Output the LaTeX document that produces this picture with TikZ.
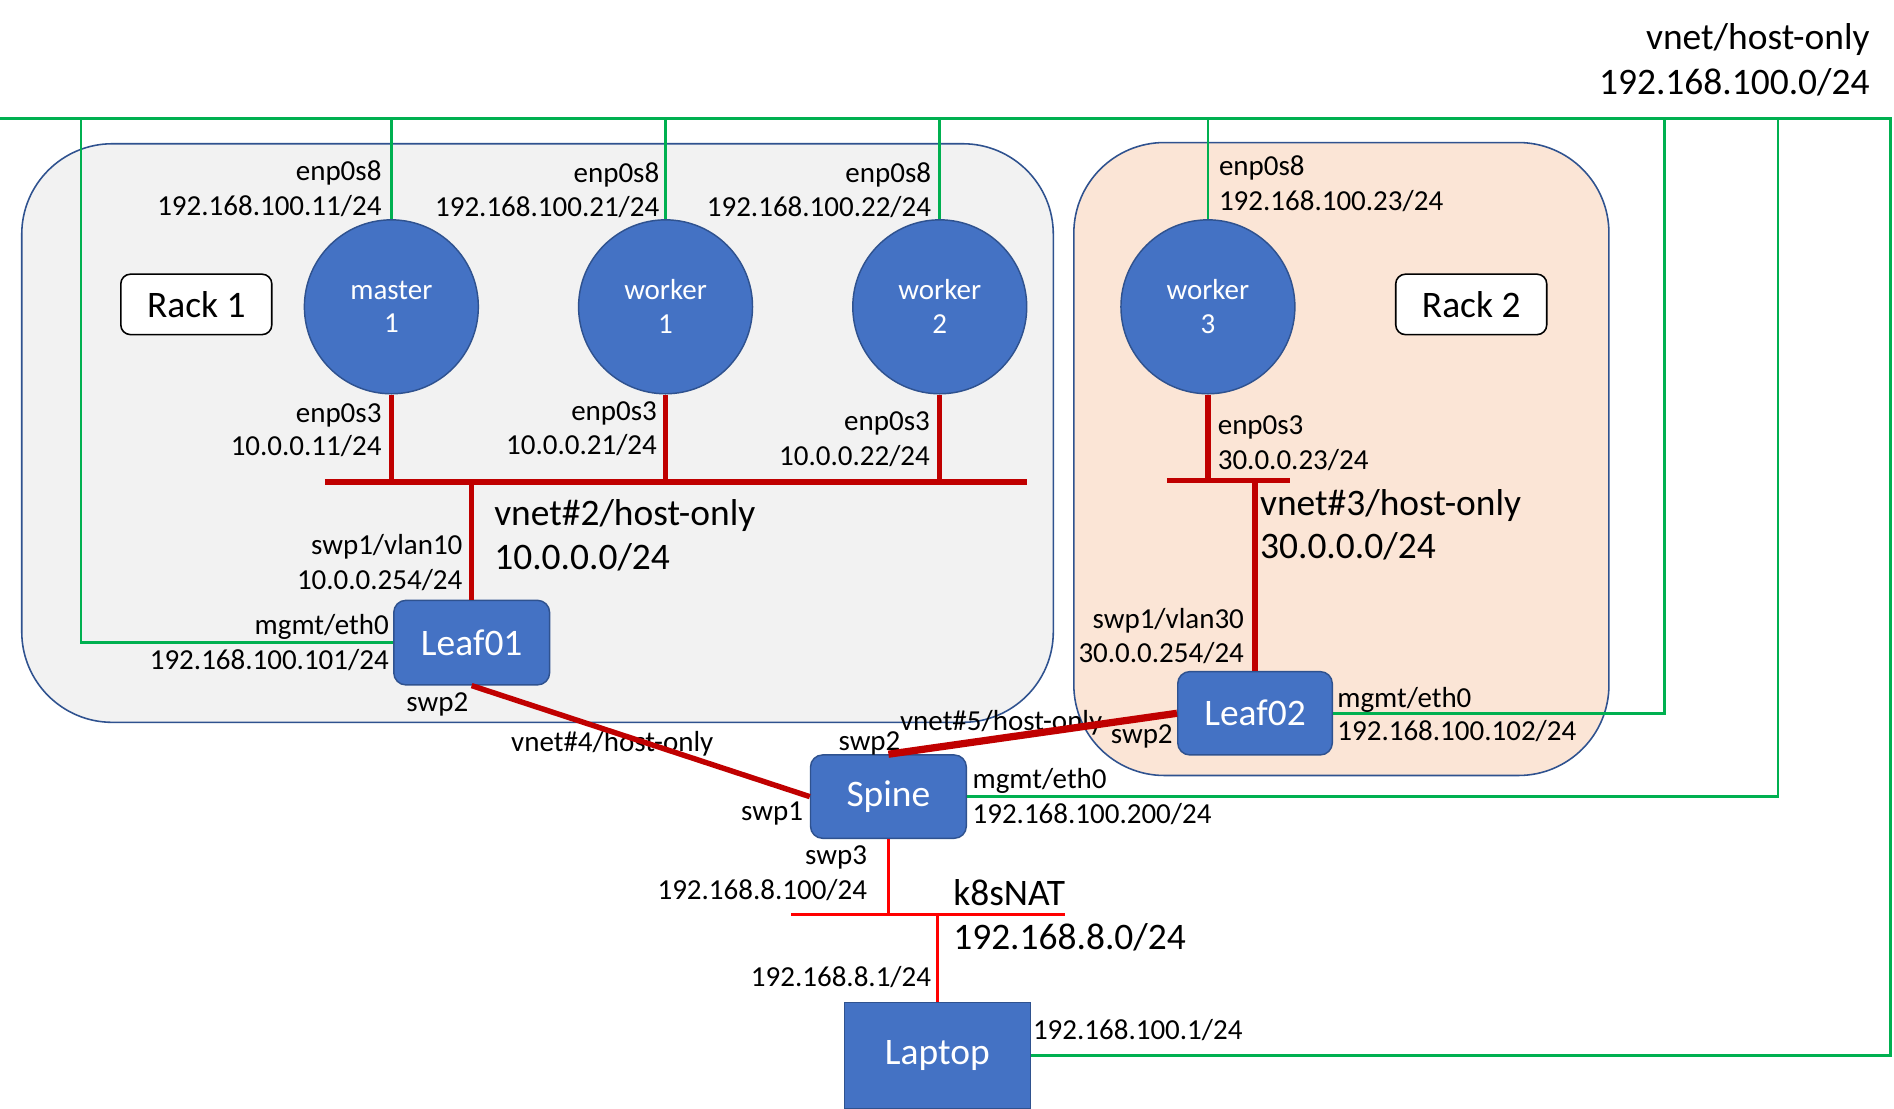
\documentclass[tikz,border=0pt]{standalone}
\usepackage{fontspec}
\setmainfont{Carlito}
\definecolor{gr}{HTML}{00B050}
\definecolor{dr}{HTML}{C00000}
\definecolor{br}{HTML}{FF0000}
\definecolor{bl}{HTML}{4472C4}
\definecolor{bb}{HTML}{2F528F}
\definecolor{r1}{HTML}{F2F2F2}
\definecolor{r2}{HTML}{FBE5D6}
\tikzset{
  sm/.style={font=\fontsize{24}{28}\selectfont, inner sep=0pt, yshift=-6pt},
  bg/.style={font=\fontsize{31}{37}\selectfont, inner sep=0pt, yshift=-8pt},
  vm/.style={circle, draw=bb, line width=1.2pt, fill=bl, minimum size=144pt, inner sep=0pt, text=white, align=center, font=\fontsize{24}{28}\selectfont},
  sw/.style={rectangle, rounded corners=10pt, draw=bb, line width=1.2pt, fill=bl, minimum width=129pt, minimum height=70pt, inner sep=0pt, text=white, font=\fontsize{31}{37}\selectfont},
  rack/.style={rectangle, rounded corners=75pt, draw=bb, line width=1.3pt, inner sep=0pt},
  racklbl/.style={rectangle, rounded corners=8pt, draw=black, line width=1.3pt, fill=white, minimum width=125pt, minimum height=50pt, inner sep=0pt, font=\fontsize{31}{37}\selectfont},
  gline/.style={draw=gr, line width=2.2pt},
  rline/.style={draw=dr, line width=4.5pt},
  rthick/.style={draw=dr, line width=6pt},
  nline/.style={draw=br, line width=2.2pt},
}
\begin{document}
\begin{tikzpicture}[x=1pt, y=-1pt]
\useasboundingbox[fill=white] (0,0) rectangle (1568,918);
% racks
\node[rack, fill=r1, minimum width=854pt, minimum height=479pt] (rack1) at (445,358.5) {};
\node[rack, fill=r2, minimum width=443pt, minimum height=524pt] (rack2) at (1110.5,380) {};
\node[racklbl] (rl1) at (162.5,252) {Rack 1};
\node[racklbl] (rl2) at (1218,252) {Rack 2};
% machines
\node[vm] (m1) at (324,254) {master\\1};
\node[vm] (w1) at (551,254) {worker\\1};
\node[vm] (w2) at (778,254) {worker\\2};
\node[vm] (w3) at (1000,254) {worker\\3};
\node[sw] (l1) at (390.5,532) {Leaf01};
\node[sw, minimum width=128pt, minimum height=69pt] (l2) at (1039,590.5) {Leaf02};
\node[sw, minimum height=69pt] (sp) at (735.5,659.5) {Spine};
\node[rectangle, draw=bb, line width=1.2pt, fill=bl, minimum width=154pt, minimum height=88pt, inner sep=0pt, text=white, font=\fontsize{31}{37}\selectfont] (lap) at (776,874) {Laptop};
% coordinates
\coordinate (gL) at (0,98);
\coordinate (gR) at (1565,98);
\coordinate (g1) at (67,98);
\coordinate (g6) at (1378,98);
\coordinate (g7) at (1472,98);
\coordinate (b2L) at (269,399);
\coordinate (b2R) at (850,399);
\coordinate (b3L) at (966,398);
\coordinate (b3R) at (1068,398);
\coordinate (nL) at (655,757);
\coordinate (nR) at (882,757);
% green management network
\draw[gline] (gL) -- (gR) -- (gR |- lap.east) -- (lap.east);
\draw[gline] (g1) -- (g1 |- l1.west) -- (l1.west);
\draw[gline] (g6) -- (g6 |- l2.east) -- (l2.east);
\draw[gline] (g7) -- (g7 |- sp.east) -- (sp.east);
\draw[gline] (m1.north) -- (m1.north |- gL);
\draw[gline] (w1.north) -- (w1.north |- gL);
\draw[gline] (w2.north) -- (w2.north |- gL);
\draw[gline] (w3.north) -- (w3.north |- gL);
% labels
\node[sm, anchor=mid east] (t1) at (316,141) {enp0s8};
\node[sm, anchor=mid east] (t2) at (316,170) {192.168.100.11/24};
\node[sm, anchor=mid east] (t3) at (546,143) {enp0s8};
\node[sm, anchor=mid east] (t4) at (546,171) {192.168.100.21/24};
\node[sm, anchor=mid east] (t5) at (771,143) {enp0s8};
\node[sm, anchor=mid east] (t6) at (771,171) {192.168.100.22/24};
\node[sm, anchor=mid west] (t7) at (1009,137) {enp0s8};
\node[sm, anchor=mid west] (t8) at (1009,166) {192.168.100.23/24};
\node[sm, anchor=mid east] (t9) at (316,341) {enp0s3};
\node[sm, anchor=mid east] (t10) at (316,369) {10.0.0.11/24};
\node[sm, anchor=mid east] (t11) at (544,340) {enp0s3};
\node[sm, anchor=mid east] (t12) at (544,368) {10.0.0.21/24};
\node[sm, anchor=mid east] (t13) at (770,348) {enp0s3};
\node[sm, anchor=mid east] (t14) at (770,377) {10.0.0.22/24};
\node[sm, anchor=mid west] (t15) at (1008,351) {enp0s3};
\node[sm, anchor=mid west] (t16) at (1008,380) {30.0.0.23/24};
\node[bg, anchor=mid west] (t17) at (409,425) {vnet\#2/host-only};
\node[bg, anchor=mid west] (t18) at (409,461) {10.0.0.0/24};
\node[sm, anchor=mid east] (t19) at (383,451) {swp1/vlan10};
\node[sm, anchor=mid east] (t20) at (383,480) {10.0.0.254/24};
\node[sm, anchor=mid east] (t21) at (322,517) {mgmt/eth0};
\node[sm, anchor=mid east] (t22) at (322,546) {192.168.100.101/24};
\node[sm, anchor=mid] (t23) at (362,581) {swp2};
\node[sm, anchor=mid west] (t24) at (423,614) {vnet\#4/host-only};
\node[sm, anchor=mid east] (t25) at (665,671) {swp1};
\node[sm, anchor=mid west] (t26) at (694,613) {swp2};
\node[sm, anchor=mid west] (t27) at (745,596) {vnet\#5/host-only};
\node[sm, anchor=mid east] (t28) at (971,607) {swp2};
\node[bg, anchor=mid west] (t29) at (1043,416) {vnet\#3/host-only};
\node[bg, anchor=mid west] (t30) at (1043,452) {30.0.0.0/24};
\node[sm, anchor=mid east] (t31) at (1030,512) {swp1/vlan30};
\node[sm, anchor=mid east] (t32) at (1030,540) {30.0.0.254/24};
\node[sm, anchor=mid west] (t33) at (1107,577) {mgmt/eth0};
\node[sm, anchor=mid west] (t34) at (1107,605) {192.168.100.102/24};
\node[sm, anchor=mid west] (t35) at (805,644) {mgmt/eth0};
\node[sm, anchor=mid west] (t36) at (805,673) {192.168.100.200/24};
\node[sm, anchor=mid east] (t37) at (718,707) {swp3};
\node[sm, anchor=mid east] (t38) at (718,736) {192.168.8.100/24};
\node[bg, anchor=mid west] (t39) at (789,739) {k8sNAT};
\node[bg, anchor=mid west] (t40) at (789,776) {192.168.8.0/24};
\node[sm, anchor=mid east] (t41) at (771,808) {192.168.8.1/24};
\node[sm, anchor=mid west] (t42) at (855,852) {192.168.100.1/24};
\node[bg, anchor=mid east] (t43) at (1548,31) {vnet/host-only};
\node[bg, anchor=mid east] (t44) at (1548,68) {192.168.100.0/24};
% red data networks
\draw[rline] (b2L) -- (b2R);
\draw[rline] (m1.south) -- (m1.south |- b2L);
\draw[rline] (w1.south) -- (w1.south |- b2L);
\draw[rline] (w2.south) -- (w2.south |- b2L);
\draw[rline] (l1.north) -- (l1.north |- b2L);
\draw[rline] (b3L) -- (b3R);
\draw[rline] (w3.south) -- (w3.south |- b3L);
\draw[rline] (l2.north) -- (l2.north |- b3L);
\draw[rline] (l1.south) -- (sp.west);
\draw[rthick] (sp.north) -- (l2.west);
\draw[nline] (nL) -- (nR);
\draw[nline] (sp.south) -- (sp.south |- nL);
\draw[nline] (lap.north) -- (lap.north |- nL);
\end{tikzpicture}
\end{document}
